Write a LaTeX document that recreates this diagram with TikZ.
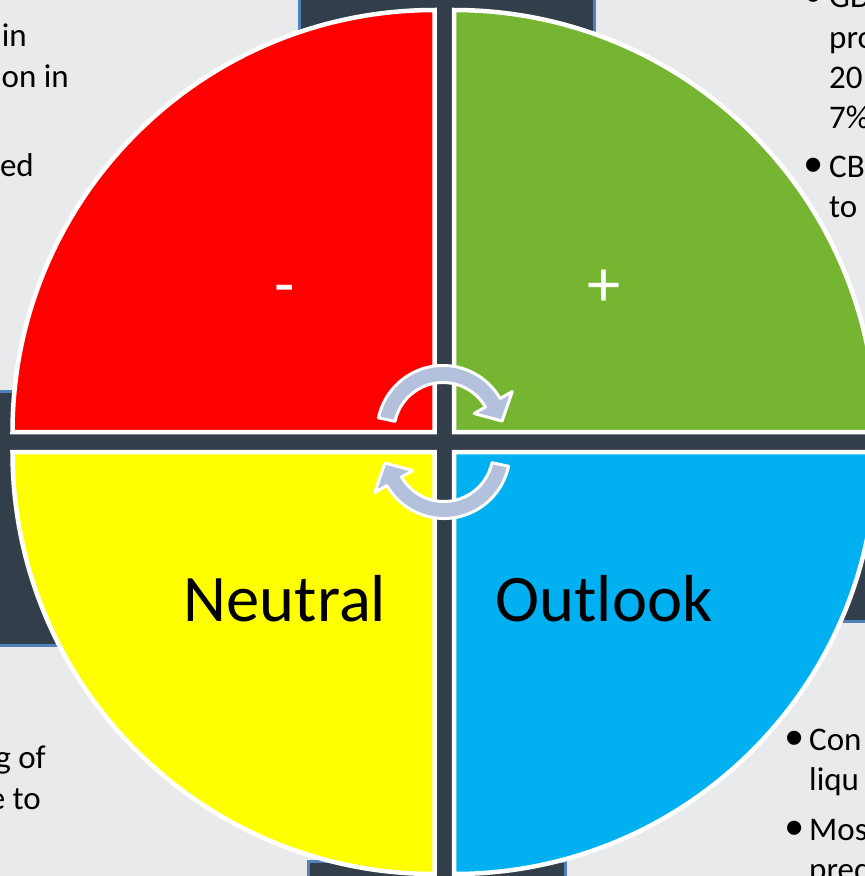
\documentclass[tikz,border=0pt]{standalone}
\usepackage{fontspec}
\setmainfont{Carlito}
\newfontfamily\bulletfont{Liberation Sans}
\definecolor{slidebg}{HTML}{E9EAEC}
\definecolor{panelfill}{HTML}{323F4B}
\definecolor{panelline}{HTML}{4F81BD}
\definecolor{qred}{HTML}{FF0000}
\definecolor{qgreen}{HTML}{76B531}
\definecolor{qyellow}{HTML}{FFFF00}
\definecolor{qblue}{HTML}{00B0F0}
\definecolor{arrowfill}{HTML}{B3C1DD}
\tikzset{
  panel/.style={fill=panelfill, draw=panelline, line width=3pt},
  quadrant/.style={draw=white, line width=4.5pt},
  bigword/.style={inner sep=0pt, font=\fontsize{66.5}{80}\selectfont},
  signword/.style={inner sep=0pt, text=white, font=\fontsize{66.5}{80}\selectfont},
  sidetext/.style={inner sep=0pt, font=\fontsize{33}{40}\selectfont},
  bulletmark/.style={inner sep=0pt, anchor=base west, font=\bulletfont\fontsize{52}{60}\selectfont},
  cyclearrow/.pic={
    \draw[fill=arrowfill, draw=white, line width=3pt, line join=round]
      (192:66) arc[start angle=192, end angle=330, radius=66]
      -- (330:80) -- (-10:60) -- (330:36) -- (330:49)
      arc[start angle=330, end angle=192, radius=49] -- cycle;
  }
}
\begin{document}
\begin{tikzpicture}[x=1pt, y=-1pt]
\useasboundingbox (0,0) rectangle (865,876);
\clip (0,0) rectangle (865,876);
\fill[slidebg] (0,0) rectangle (865,876);

% dark panels behind the wheel
\draw[panel] (299.5,-20) rectangle (594.5,442);
\draw[panel] (-20,391.5) rectangle (444,645.5);
\draw[panel] (444,365) rectangle (890,621);
\draw[panel] (308.5,861.5) rectangle (565.5,900);
\fill[panelfill] (444,442) circle[radius=421];

% the four quarter wedges
\draw[quadrant, fill=qred] (434.5,432) -- ++(-422,0)
  arc[start angle=180, end angle=270, radius=422] -- cycle;
\draw[quadrant, fill=qgreen] (454,432) -- ++(0,-422)
  arc[start angle=270, end angle=360, radius=422] -- cycle;
\draw[quadrant, fill=qblue] (454,452) -- ++(422,0)
  arc[start angle=0, end angle=90, radius=422] -- cycle;
\draw[quadrant, fill=qyellow] (434.5,452) -- ++(0,422)
  arc[start angle=90, end angle=180, radius=422] -- cycle;

% labels inside the wedges
\node[signword, anchor=base] (minus) at (285,306) {-};
\node[signword, anchor=base] (plus) at (604,306) {+};
\node[bigword, anchor=base] (neutral) at (285,621) {Neutral};
\node[bigword, anchor=base] (outlook) at (604,621) {Outlook};

% cycle arrows in the middle
\pic at (443,431.5) {cyclearrow};
\pic[rotate=180] at (444,452.5) {cyclearrow};

% text of the side boxes
\node[sidetext, anchor=base east] (tl1) at (27,46) {in};
\node[sidetext, anchor=base east] (tl2) at (69,87) {on in};
\node[sidetext, anchor=base east] (tl3) at (34,176) {ed};

\node[bulletmark] (tr0) at (804,12) {•};
\node[sidetext, anchor=base west] (tr1) at (829,7) {GD};
\node[sidetext, anchor=base west] (tr2) at (829,48) {pro};
\node[sidetext, anchor=base west] (tr3) at (829,88) {20};
\node[sidetext, anchor=base west] (tr4) at (829,128) {7\%};
\node[bulletmark] (tr5) at (804,182) {•};
\node[sidetext, anchor=base west] (tr6) at (829,177) {CB};
\node[sidetext, anchor=base west] (tr7) at (829,217) {to};

\node[sidetext, anchor=base east] (bl1) at (46,768) {g of};
\node[sidetext, anchor=base east] (bl2) at (41,809) {e to};

\node[bulletmark] (br0) at (785,755) {•};
\node[sidetext, anchor=base west] (br1) at (809,750) {Con};
\node[sidetext, anchor=base west] (br2) at (809,790) {liqu};
\node[bulletmark] (br3) at (785,845) {•};
\node[sidetext, anchor=base west] (br4) at (809,840) {Mos};
\node[sidetext, anchor=base west] (br5) at (809,880) {pred};
\end{tikzpicture}
\end{document}
